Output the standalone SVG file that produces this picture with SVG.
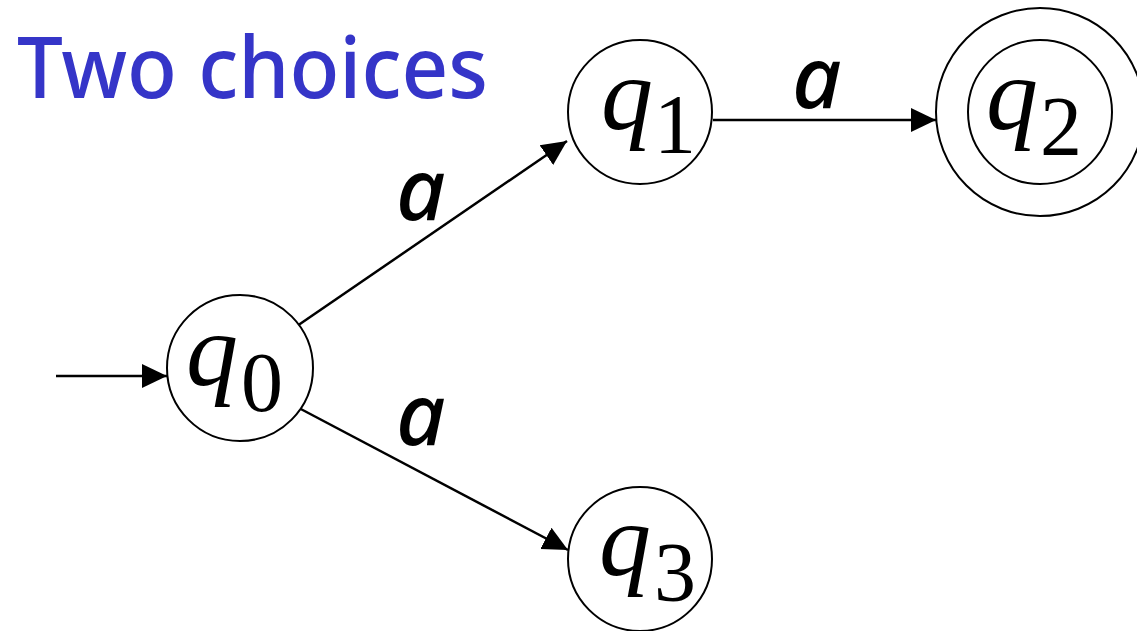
<svg xmlns="http://www.w3.org/2000/svg" width="1137" height="631" viewBox="0 0 1137 631">
<style>
.st{fill:#fff;stroke:#000;stroke-width:2}
.q{font-family:"Liberation Serif","Times New Roman",serif;font-style:italic;font-size:104px;fill:#000}
.sub{font-style:normal;font-size:84px}
.lbl{font-family:"Noto Sans","Open Sans",sans-serif;font-style:italic;font-weight:500;font-size:86px;fill:#000}
.edge{stroke:#000;stroke-width:2.5;fill:none;marker-end:url(#ah)}
.title{font-family:"Comic Sans MS","Noto Sans",sans-serif;font-weight:500;font-size:86px;fill:#3535C8}
</style>
<defs>
<marker id="ah" markerUnits="userSpaceOnUse" markerWidth="26" markerHeight="26" refX="25" refY="12" orient="auto" viewBox="0 0 26 24">
<path d="M0,0 L25,12 L0,24 z" fill="#000"/>
</marker>
</defs>
<text class="title" x="17" y="98" textLength="471" lengthAdjust="spacingAndGlyphs">Two choices</text>
<g id="connectors">
<line class="edge" x1="56" y1="376" x2="167" y2="376"/>
<line class="edge" x1="297" y1="326" x2="567" y2="141"/>
<line class="edge" x1="297" y1="407" x2="568" y2="550"/>
<line class="edge" x1="713" y1="120" x2="936" y2="120"/>
<text class="lbl" x="396" y="220">a</text>
<text class="lbl" x="396" y="445">a</text>
<text class="lbl" x="792" y="108">a</text>
</g>
<g id="q0">
<circle class="st" cx="240" cy="368" r="73"/>
<text class="q" x="186" y="385">q<tspan class="sub" x="241" y="411">0</tspan></text>
</g>
<g id="q1">
<circle class="st" cx="640" cy="112" r="72"/>
<text class="q" x="601" y="129">q<tspan class="sub" x="654" y="153">1</tspan></text>
</g>
<g id="q2">
<circle class="st" cx="1040" cy="112" r="104"/>
<circle class="st" cx="1040" cy="112" r="72"/>
<text class="q" x="986" y="129">q<tspan class="sub" x="1040" y="155">2</tspan></text>
</g>
<g id="q3">
<circle class="st" cx="640" cy="559" r="72"/>
<text class="q" x="599" y="575">q<tspan class="sub" x="654" y="601">3</tspan></text>
</g>
</svg>
